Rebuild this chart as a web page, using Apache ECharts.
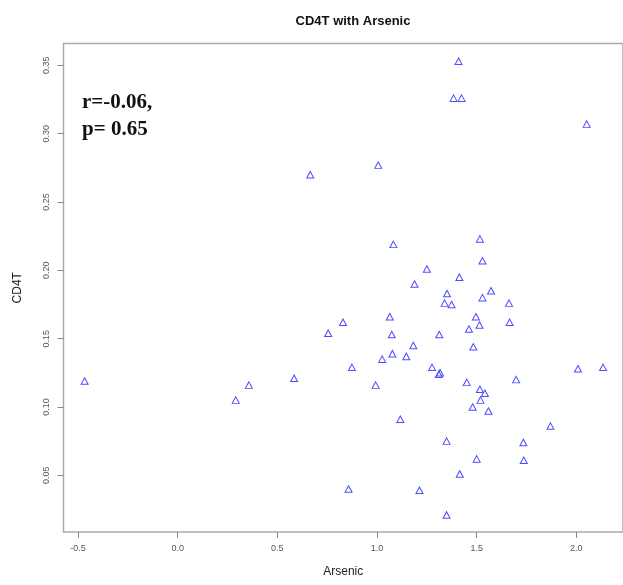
<!DOCTYPE html>
<html>
<head>
<meta charset="utf-8">
<script src="https://cdn.jsdelivr.net/npm/echarts@6/dist/echarts.min.js"></script>
<style>html,body{margin:0;padding:0;background:#fff}#c{width:623px;height:585px}</style>
</head>
<body>
<div id="c"></div>
<script>
const arsenic = [0.665, 1.409, 1.384, 1.424, 2.052, 1.006, 1.516, 1.082, 1.529, 1.250, 1.413, 1.188,
  1.572, 1.351, 1.529, 1.662, 1.339, 1.374, 0.829, 1.064, 1.496, 1.514, 1.461, 1.665,
  0.755, 1.074, 1.312, 1.182, 1.483, 1.077, 1.026, 1.147, 0.874, 1.276, 1.310, 1.316,
  2.008, 2.134, 0.993, 1.450, 1.698, 1.516, 1.541, 1.519, 1.480, 1.559, 1.117, 1.870,
  1.349, 1.734, 1.500, 1.736, 1.415, 0.857, 1.213, 1.349, -0.467, 0.357, 0.291, 0.584];
const cd4t = [0.270, 0.353, 0.326, 0.326, 0.307, 0.277, 0.223, 0.219, 0.207, 0.201, 0.195, 0.190,
  0.185, 0.183, 0.180, 0.176, 0.176, 0.175, 0.162, 0.166, 0.166, 0.160, 0.157, 0.162,
  0.154, 0.153, 0.153, 0.145, 0.144, 0.139, 0.135, 0.137, 0.129, 0.129, 0.124, 0.125,
  0.128, 0.129, 0.116, 0.118, 0.120, 0.113, 0.110, 0.105, 0.100, 0.097, 0.091, 0.086,
  0.075, 0.074, 0.062, 0.061, 0.051, 0.040, 0.039, 0.021, 0.119, 0.116, 0.105, 0.121];
const xTicks = [-0.5, 0.0, 0.5, 1.0, 1.5, 2.0];
const yTicks = [0.05, 0.10, 0.15, 0.20, 0.25, 0.30, 0.35];
const titleText = 'CD4T with Arsenic';
const statText = ['r=-0.06,', 'p= 0.65'];

const points = arsenic.map((x, i) => [x, cd4t[i]]);
const chart = echarts.init(document.getElementById('c'), null, {renderer: 'canvas'});
const tickFont = {color: '#555', fontSize: 9, fontFamily: 'Liberation Sans, Arial, sans-serif'};
chart.setOption({
  animation: false,
  backgroundColor: '#fff',
  title: {
    text: titleText, left: 348, top: 10, textAlign: 'center',
    textStyle: {fontSize: 13, fontWeight: 'bold', color: '#111', fontFamily: 'Liberation Sans, Arial, sans-serif'}
  },
  grid: {left: 63.5, top: 43.5, bottom: 53, right: -6, show: true, borderColor: '#aaa', borderWidth: 1.5, containLabel: false},
  xAxis: {
    type: 'value', min: -0.573, max: 2.234,
    name: 'Arsenic', nameLocation: 'middle', nameGap: 34,
    nameTextStyle: {fontSize: 12, color: '#222', fontFamily: 'Liberation Sans, Arial, sans-serif'},
    axisLine: {show: false, onZero: false},
    splitLine: {show: false},
    axisTick: {show: true, length: 6, customValues: xTicks, lineStyle: {color: '#888', width: 1}},
    axisLabel: {customValues: xTicks, margin: 12, ...tickFont, formatter: v => v.toFixed(1)}
  },
  yAxis: {
    type: 'value', min: 0.0085, max: 0.366,
    name: 'CD4T', nameLocation: 'middle', nameGap: 40, nameRotate: 90,
    nameTextStyle: {fontSize: 12, color: '#222', fontFamily: 'Liberation Sans, Arial, sans-serif'},
    axisLine: {show: false, onZero: false},
    splitLine: {show: false},
    axisTick: {show: true, length: 6, customValues: yTicks, lineStyle: {color: '#888', width: 1}},
    axisLabel: {customValues: yTicks, margin: 12, rotate: 90, ...tickFont, formatter: v => v.toFixed(2)}
  },
  graphic: [
    {type: 'text', left: 82, top: 92, style: {text: statText[0], font: 'bold 21px "Liberation Serif", "Times New Roman", serif', fill: '#111'}},
    {type: 'text', left: 82, top: 119, style: {text: statText[1], font: 'bold 21px "Liberation Serif", "Times New Roman", serif', fill: '#111'}}
  ],
  series: [{
    type: 'scatter', data: points, symbol: 'triangle', symbolSize: [7, 6.5],
    itemStyle: {color: 'rgba(0,0,0,0)', borderColor: '#4d4dff', borderWidth: 1, opacity: 1}
  }]
});
</script>
</body>
</html>
